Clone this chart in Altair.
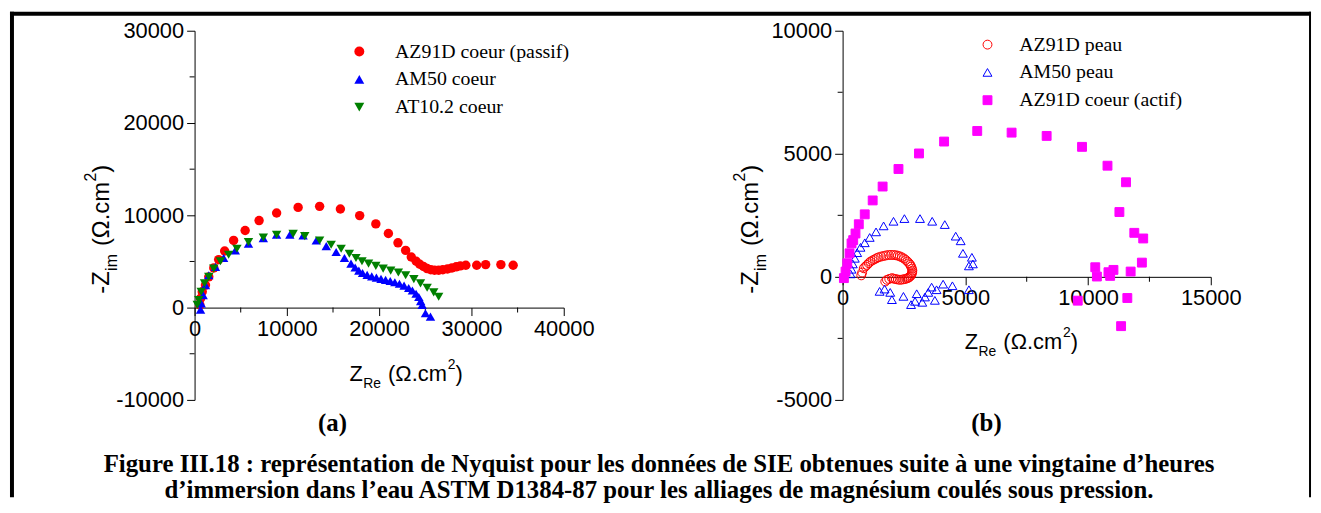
import altair as alt
import pandas as pd

# ---------------- data : panel (a) ----------------
a_series = ["AZ91D coeur (passif)", "AM50 coeur", "AT10.2 coeur"]
a_colors = ["#FF0000", "#0000FF", "#008000"]
a_shapes = ["circle", "triangle-up", "triangle-down"]

azp_x = [570, 650, 830, 1180, 1540, 2080, 2610, 3260, 4230, 5480, 6990, 8890, 11220, 13550,
         15800, 17890, 19640, 21000, 22040, 22870, 23480, 24010, 24400, 24800, 25200, 25600,
         26000, 26450, 26900, 27400, 27880, 28350, 28800, 29390, 30570, 31540, 33190, 34520]
azp_y = [290, 1000, 1720, 2440, 3330, 4300, 5200, 6130, 7280, 8350, 9430, 10250, 10860, 10970,
         10680, 9970, 9070, 8030, 7020, 6200, 5480, 5020, 4700, 4450, 4230, 4100, 4050, 4050,
         4100, 4180, 4300, 4420, 4520, 4590, 4590, 4660, 4660, 4590]

am_x = [650, 720, 930, 1180, 1540, 2260, 3150, 4410, 5840, 7450, 8890, 10320, 11760, 13190,
        14270, 15340, 16240, 16950, 17400, 17800, 18200, 18700, 19200, 19700, 20200, 20700,
        21200, 21700, 22200, 22700, 23200, 23600, 24000, 24300, 24500, 24660, 25020, 25560]
am_y = [-220, 460, 1360, 2440, 3510, 4410, 5380, 6200, 6920, 7530, 7890, 7890, 7810, 7270,
        6670, 6020, 5380, 4770, 4350, 4000, 3750, 3550, 3380, 3250, 3120, 3000, 2880, 2750,
        2580, 2380, 2120, 1850, 1500, 1150, 700, 290, -610, -970]

at_x = [290, 460, 720, 1080, 1540, 2080, 2800, 3690, 4590, 5840, 7450, 8890, 10680, 11940,
        13550, 14800, 15880, 16770, 17490, 18140, 18850, 19640, 20430, 21250, 22080, 22870,
        23760, 24480, 25200, 25910, 26450]
at_y = [290, 820, 1720, 2620, 3330, 4230, 5020, 5730, 6380, 7100, 7600, 7890, 7990, 7740,
        7270, 6810, 6380, 5840, 5380, 5020, 4770, 4520, 4230, 4010, 3800, 3510, 3080, 2620,
        2150, 1650, 1180]

# ---------------- data : panel (b) ----------------
b_series = ["AZ91D peau", "AM50 peau", "AZ91D coeur (actif)"]
b_stroke = ["#FF0000", "#0000FF", "#FF00FF"]
b_fill = ["transparent", "transparent", "#FF00FF"]
b_shapes = ["circle", "triangle-up", "square"]

azs_x = [760, 796, 861, 930, 998, 1065, 1132, 1220, 1306, 1390, 1468, 1570, 1670, 1770, 1872,
         1975, 2074, 2160, 2251, 2335, 2413, 2500, 2575, 2645, 2708, 2760, 2789, 2825, 2842,
         2835, 2815, 2790, 2749, 2700, 2655, 2590, 2518, 2430, 2344, 2255, 2170, 2090, 2009,
         1900, 1807, 1738]
azs_y = [60, 175, 350, 420, 484, 555, 618, 670, 713, 760, 794, 825, 847, 870, 887, 890, 887,
         878, 860, 830, 794, 745, 685, 620, 552, 485, 416, 335, 255, 185, 121, 60, 13, -25,
         -52, -75, -93, -110, -121, -110, -93, -75, -52, -85, -121, -190]

ams_x = [323, 364, 416, 497, 594, 728, 902, 1104, 1362, 1670, 2074, 2518, 3153, 3650, 4163,
         4608, 4810, 4903, 5267, 5307, 5146, 5146, 4474, 4095, 3828, 3759, 3626, 3489, 3355,
         3246, 3019, 2951, 2789, 2478, 2009, 1940, 1710, 1508]
ams_y = [121, 309, 524, 753, 981, 1198, 1384, 1600, 1827, 2070, 2258, 2367, 2367, 2258, 2124,
         1653, 1464, 955, 794, 524, 444, -524, -363, -296, -524, -955, -417, -632, -820,
         -1035, -686, -995, -1129, -793, -927, -632, -497, -591]

aza_x = [53, 121, 190, 283, 364, 432, 525, 660, 902, 1225, 1630, 2276, 3112, 4135, 5485, 6885,
         8313, 9755, 10792, 11547, 11277, 11884, 12247, 12193, 11735, 11035, 10832, 10900,
         10294, 10360, 9580, 11600, 11346]
aza_y = [-52, 214, 552, 955, 1359, 1492, 1761, 2137, 2540, 3105, 3669, 4382, 5013, 5497, 5927,
         5860, 5726, 5282, 4516, 3843, 2634, 1788, 1559, 578, 215, 282, 188, 40, 390, 13, -968,
         -860, -2003]

# ---------------- axes values / texts ----------------
a_xticks = [0, 10000, 20000, 30000, 40000]
a_xminor = [5000, 15000, 25000, 35000]
a_yticks = [-10000, 0, 10000, 20000, 30000]
a_yminor = [-5000, 5000, 15000, 25000]
b_xticks = [0, 5000, 10000, 15000]
b_xminor = [2500, 7500, 12500]
b_yticks = [-5000, 0, 5000, 10000]
b_yminor = [-2500, 2500, 7500]

xtitle_parts = ["Z", "Re", "(Ω.cm", "2", ")"]
ytitle_parts = ["-Z", "im", "(Ω.cm", "2", ")"]
caption_lines = [
    "Figure III.18 : représentation de Nyquist pour les données de SIE obtenues suite à une vingtaine d’heures",
    "d’immersion dans l’eau ASTM D1384-87 pour les alliages de magnésium coulés sous pression.",
]
panel_labels = ["(a)", "(b)"]

SANS = "Liberation Sans"
SERIF = "Liberation Serif"
W, H = 372, 372


def frame(names, xs, ys):
    rows = []
    k = 0
    for n, xl, yl in zip(names, xs, ys):
        for xv, yv in zip(xl, yl):
            rows.append({"series": n, "x": xv, "y": yv, "k": k})
            k += 1
    return pd.DataFrame(rows)


df_a = frame(a_series, [azp_x, am_x, at_x], [azp_y, am_y, at_y])
df_b = frame(b_series, [azs_x, ams_x, aza_x], [azs_y, ams_y, aza_y])


def label(text, x, y, size=22, font=SANS, angle=0, align="left", weight="normal"):
    return alt.Chart(pd.DataFrame({"t": [text]})).mark_text(
        font=font, fontSize=size, angle=angle, align=align, baseline="alphabetic",
        fontWeight=weight, color="black"
    ).encode(x=alt.value(x), y=alt.value(y), text="t:N")


def xtitle(ax, ay):
    dxs = [0, 14, 39, 99, 107]
    dys = [0, 7, 0, -12, 0]
    sizes = [22, 14, 22, 14, 22]
    return [label(t, ax + dx, ay + dy, size=s) for t, dx, dy, s in zip(xtitle_parts, dxs, dys, sizes)]


def ytitle(ax, ay):
    dxs = [0, 23, 48, 113, 122]
    dys = [0, 8, 0, -13, 0]
    sizes = [24, 16, 24, 16, 24]
    return [label(t, ax + dy, ay - dx, size=s, angle=270)
            for t, dx, dy, s in zip(ytitle_parts, dxs, dys, sizes)]


def axis(values, offset=0):
    kw = dict(values=values, tickSize=8, labelFontSize=22, labelFont=SANS, labelColor="black",
              domainColor="black", tickColor="black", labelPadding=3, labelFlush=False,
              labelOverlap=False, grid=False, labelExpr="toString(datum.value)", title=None)
    if offset:
        kw["offset"] = offset
    return alt.Axis(**kw)


def minor_ticks(xs, ys, xminor, yminor):
    mx = alt.Chart(pd.DataFrame({"v": xminor})).mark_tick(
        orient="vertical", size=5, thickness=1, color="black", yOffset=2.5, opacity=1
    ).encode(x=alt.X("v:Q", scale=xs), y=alt.datum(0, scale=ys))
    my = alt.Chart(pd.DataFrame({"v": yminor})).mark_tick(
        orient="horizontal", size=5, thickness=1, color="black", xOffset=-2.5, opacity=1
    ).encode(y=alt.Y("v:Q", scale=ys), x=alt.datum(0, scale=xs))
    return [mx, my]


# ---------------- panel (a) ----------------
xs_a = alt.Scale(domain=[0, 40000], nice=False, zero=False)
ys_a = alt.Scale(domain=[-10000, 30000], nice=False, zero=False)
leg_a = alt.Legend(orient="none", legendX=156, legendY=11, title=None, labelFont=SERIF,
                   labelFontSize=20, labelColor="black", symbolSize=100, labelOffset=26,
                   rowPadding=8, padding=0, symbolStrokeWidth=0, labelLimit=400)

pts_a = alt.Chart(df_a).mark_point(filled=True, size=90, opacity=1).encode(
    x=alt.X("x:Q", scale=xs_a, axis=axis(a_xticks, offset=-93)),
    y=alt.Y("y:Q", scale=ys_a, axis=axis(a_yticks)),
    color=alt.Color("series:N", scale=alt.Scale(domain=a_series, range=a_colors), legend=leg_a),
    shape=alt.Shape("series:N", scale=alt.Scale(domain=a_series, range=a_shapes), legend=leg_a),
    order=alt.Order("k:Q"),
)

one = pd.DataFrame({"k": [0]})
border = [
    alt.Chart(one).mark_rule(color="black", strokeWidth=4).encode(
        x=alt.value(-186), x2=alt.value(1125), y=alt.value(-17)),
    alt.Chart(one).mark_rule(color="black", strokeWidth=4).encode(
        x=alt.value(-184), y=alt.value(-19), y2=alt.value(470)),
    alt.Chart(one).mark_rule(color="black", strokeWidth=2).encode(
        x=alt.value(1124), y=alt.value(-19), y2=alt.value(470)),
]
captions = [
    label(caption_lines[0], 468, 445, size=25, font=SERIF, align="center", weight="bold"),
    label(caption_lines[1], 468, 471, size=25, font=SERIF, align="center", weight="bold"),
    label(panel_labels[0], 139, 403, size=25, font=SERIF, align="center", weight="bold"),
]

left = alt.layer(
    *minor_ticks(xs_a, ys_a, a_xminor, a_yminor),
    pts_a,
    *xtitle(156, 353),
    *ytitle(-86, 265),
    *border,
    *captions,
).properties(width=W, height=H)

# ---------------- panel (b) ----------------
xs_b = alt.Scale(domain=[0, 15000], nice=False, zero=False)
ys_b = alt.Scale(domain=[-5000, 10000], nice=False, zero=False)
leg_b = alt.Legend(orient="none", legendX=136, legendY=4, title=None, labelFont=SERIF,
                   labelFontSize=20, labelColor="black", symbolSize=80, labelOffset=22,
                   rowPadding=8, padding=0, symbolStrokeWidth=1, labelLimit=400)

pts_b = alt.Chart(df_b).mark_point(filled=True, size=80, opacity=1, strokeWidth=1).encode(
    x=alt.X("x:Q", scale=xs_b, axis=axis(b_xticks, offset=-124)),
    y=alt.Y("y:Q", scale=ys_b, axis=axis(b_yticks)),
    stroke=alt.Stroke("series:N", scale=alt.Scale(domain=b_series, range=b_stroke), legend=leg_b),
    fill=alt.Fill("series:N", scale=alt.Scale(domain=b_series, range=b_fill), legend=leg_b),
    shape=alt.Shape("series:N", scale=alt.Scale(domain=b_series, range=b_shapes), legend=leg_b),
    order=alt.Order("k:Q"),
)

right = alt.layer(
    *minor_ticks(xs_b, ys_b, b_xminor, b_yminor),
    pts_b,
    *xtitle(123, 321),
    *ytitle(-85, 265),
    label(panel_labels[1], 145, 403, size=25, font=SERIF, align="center", weight="bold"),
).properties(width=371, height=H)

chart = alt.hconcat(left, right, spacing=281, bounds="flush").resolve_scale(
    color="independent", shape="independent", fill="independent", stroke="independent"
).properties(padding=0, background="white").configure_view(stroke=None)

chart.save("out.html", embed_options={"renderer": "svg", "actions": False})
